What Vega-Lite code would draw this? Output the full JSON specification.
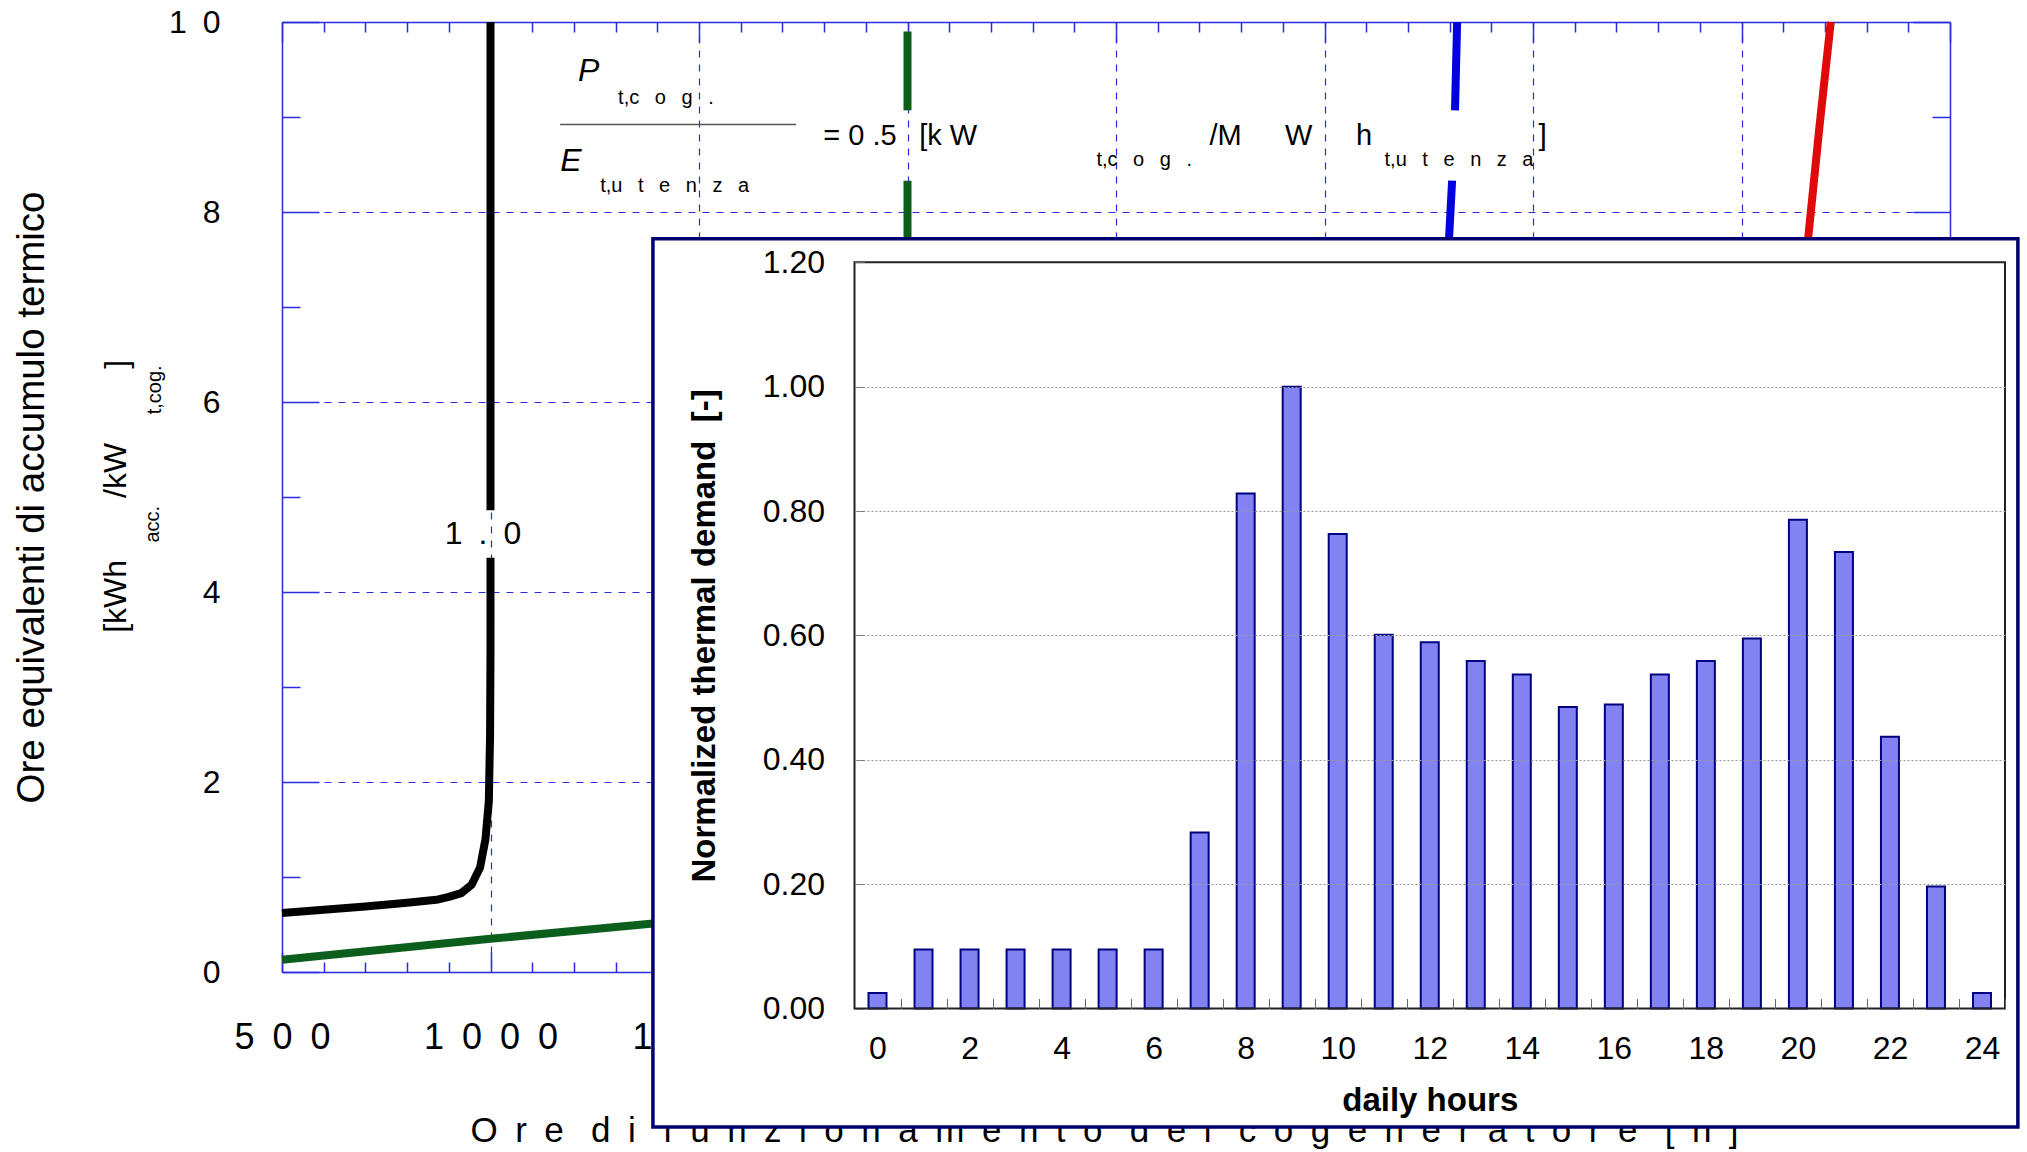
{
  "$schema": "https://vega.github.io/schema/vega-lite/v6.json",
  "width": 1668,
  "height": 950,
  "autosize": {"type": "none"},
  "padding": {"left": 282, "top": 22, "right": 77, "bottom": 180},
  "background": "white",
  "config": {
    "view": {"stroke": null},
    "font": "Liberation Sans",
    "axis": {"labelFont": "Liberation Sans", "titleFont": "Liberation Sans", "labelColor": "#000", "titleColor": "#000"},
    "text": {"font": "Liberation Sans", "color": "#000"}
  },
  "layer": [
    {
      "layer": [
        {
          "data": {"values": [
            {"curva": "nero", "tratto": "nero1", "n": 1, "ore": 500, "acc": 0.62},
            {"curva": "nero", "tratto": "nero1", "n": 2, "ore": 600, "acc": 0.655},
            {"curva": "nero", "tratto": "nero1", "n": 3, "ore": 700, "acc": 0.69},
            {"curva": "nero", "tratto": "nero1", "n": 4, "ore": 800, "acc": 0.73},
            {"curva": "nero", "tratto": "nero1", "n": 5, "ore": 870, "acc": 0.76},
            {"curva": "nero", "tratto": "nero1", "n": 6, "ore": 900, "acc": 0.79},
            {"curva": "nero", "tratto": "nero1", "n": 7, "ore": 930, "acc": 0.83},
            {"curva": "nero", "tratto": "nero1", "n": 8, "ore": 955, "acc": 0.92},
            {"curva": "nero", "tratto": "nero1", "n": 9, "ore": 975, "acc": 1.1},
            {"curva": "nero", "tratto": "nero1", "n": 10, "ore": 988, "acc": 1.4},
            {"curva": "nero", "tratto": "nero1", "n": 11, "ore": 996, "acc": 1.8},
            {"curva": "nero", "tratto": "nero1", "n": 12, "ore": 999, "acc": 2.5},
            {"curva": "nero", "tratto": "nero1", "n": 13, "ore": 1000, "acc": 3.4},
            {"curva": "nero", "tratto": "nero1", "n": 14, "ore": 1000, "acc": 4.36},
            {"curva": "nero", "tratto": "nero2", "n": 15, "ore": 1000, "acc": 4.86},
            {"curva": "nero", "tratto": "nero2", "n": 16, "ore": 1000, "acc": 10},
            {"curva": "verde", "tratto": "verde1", "n": 1, "ore": 500, "acc": 0.13},
            {"curva": "verde", "tratto": "verde1", "n": 2, "ore": 1000, "acc": 0.35},
            {"curva": "verde", "tratto": "verde1", "n": 3, "ore": 1390, "acc": 0.51},
            {"curva": "verde", "tratto": "verde1", "n": 4, "ore": 1700, "acc": 0.68},
            {"curva": "verde", "tratto": "verde1", "n": 5, "ore": 1900, "acc": 0.95},
            {"curva": "verde", "tratto": "verde1", "n": 6, "ore": 1970, "acc": 1.8},
            {"curva": "verde", "tratto": "verde1", "n": 7, "ore": 1995, "acc": 3.5},
            {"curva": "verde", "tratto": "verde1", "n": 8, "ore": 2000, "acc": 5.5},
            {"curva": "verde", "tratto": "verde1", "n": 9, "ore": 2000, "acc": 8.33},
            {"curva": "verde", "tratto": "verde2", "n": 10, "ore": 2000, "acc": 9.07},
            {"curva": "verde", "tratto": "verde2", "n": 11, "ore": 2000, "acc": 9.9},
            {"curva": "blu", "tratto": "blu1", "n": 1, "ore": 3200, "acc": 4.0},
            {"curva": "blu", "tratto": "blu1", "n": 2, "ore": 3290, "acc": 7.0},
            {"curva": "blu", "tratto": "blu1", "n": 3, "ore": 3306, "acc": 8.33},
            {"curva": "blu", "tratto": "blu2", "n": 4, "ore": 3313, "acc": 9.07},
            {"curva": "blu", "tratto": "blu2", "n": 5, "ore": 3318, "acc": 10},
            {"curva": "rosso", "tratto": "rosso1", "n": 1, "ore": 4100, "acc": 5.0},
            {"curva": "rosso", "tratto": "rosso1", "n": 2, "ore": 4160, "acc": 7.73},
            {"curva": "rosso", "tratto": "rosso1", "n": 3, "ore": 4187, "acc": 8.9},
            {"curva": "rosso", "tratto": "rosso1", "n": 4, "ore": 4214, "acc": 10}
          ]},
          "mark": {"type": "line", "strokeWidth": 8, "strokeCap": "butt", "strokeJoin": "round"},
          "encoding": {
            "x": {"field": "ore", "type": "quantitative",
              "scale": {"domain": [500, 4500], "nice": false, "zero": false},
              "axis": {
                "orient": "bottom",
                "values": [500,600,700,800,900,1000,1100,1200,1300,1400,1500,1600,1700,1800,1900,2000,2100,2200,2300,2400,2500,2600,2700,2800,2900,3000,3100,3200,3300,3400,3500,3600,3700,3800,3900,4000,4100,4200,4300,4400,4500],
                "format": "d",
                "labelExpr": "datum.value % 500 === 0 && datum.value <= 1500 ? join(split(datum.label, ''), '\u2002') : ''",
                "labelFontSize": 36, "labelPadding": 68, "labelFlush": false, "labelOverlap": false,
                "tickSize": {"condition": {"test": "datum.value % 500 === 0", "value": -20}, "value": -10},
                "tickColor": "#2b2be0", "tickWidth": 1.5,
                "grid": true, "gridColor": "#2b2be0", "gridDash": [7, 7], "gridWidth": 1.2,
                "gridOpacity": {"condition": {"test": "datum.value % 500 === 0 && datum.value > 500 && datum.value < 4500", "value": 1}, "value": 0},
                "domainColor": "#2b2be0", "domainWidth": 1.5,
                "title": "O\u2002r\u2002e\u2002\u00a0d\u2002i\u2002\u00a0f\u2002u\u2002n\u2002z\u2002i\u2002o\u2002n\u2002a\u2002m\u2002e\u2002n\u2002t\u2002o\u2002\u00a0d\u2002e\u2002l\u2002\u00a0c\u2002o\u2002g\u2002e\u2002n\u2002e\u2002r\u2002a\u2002t\u2002o\u2002r\u2002e\u2002\u00a0[\u2002h\u2002]",
                "titleFontSize": 35, "titleFontWeight": "normal", "titlePadding": 48, "titleX": 822
              }},
            "y": {"field": "acc", "type": "quantitative",
              "scale": {"domain": [0, 10], "nice": false, "zero": false},
              "axis": {
                "orient": "left",
                "values": [0,1,2,3,4,5,6,7,8,9,10],
                "format": "d",
                "labelExpr": "datum.value % 2 === 0 ? join(split(datum.label, ''), '\u2002') : ''",
                "labelFontSize": 32, "labelPadding": 99, "labelOverlap": false,
                "tickSize": {"condition": {"test": "datum.value % 2 === 0", "value": -37}, "value": -18},
                "tickColor": "#2b2be0", "tickWidth": 1.5,
                "grid": true, "gridColor": "#2b2be0", "gridDash": [7, 7], "gridWidth": 1.2,
                "gridOpacity": {"condition": {"test": "datum.value % 2 === 0 && datum.value > 0 && datum.value < 10", "value": 1}, "value": 0},
                "domainColor": "#2b2be0", "domainWidth": 1.5,
                "title": "Ore equivalenti di accumulo termico",
                "titleFontSize": 38.5, "titleFontWeight": "normal", "titlePadding": 117
              }},
            "color": {"field": "curva", "type": "nominal",
              "scale": {"domain": ["nero", "verde", "blu", "rosso"], "range": ["#000000", "#0b5e1c", "#0000e0", "#e00a0a"]},
              "legend": null},
            "detail": {"field": "tratto"},
            "order": {"field": "n", "type": "quantitative"}
          }
        },
        {
          "data": {"values": [{}]},
          "mark": {"type": "text", "text": "1\u2002.\u20020", "fontSize": 32, "align": "center", "baseline": "middle"},
          "encoding": {
            "x": {"datum": 982, "type": "quantitative",
              "axis": {
                "orient": "top",
                "values": [500,600,700,800,900,1000,1100,1200,1300,1400,1500,1600,1700,1800,1900,2000,2100,2200,2300,2400,2500,2600,2700,2800,2900,3000,3100,3200,3300,3400,3500,3600,3700,3800,3900,4000,4100,4200,4300,4400,4500],
                "labels": false, "grid": false, "title": null,
                "tickSize": {"condition": {"test": "datum.value % 500 === 0", "value": -20}, "value": -10},
                "tickColor": "#2b2be0", "tickWidth": 1.5,
                "domainColor": "#2b2be0", "domainWidth": 1.5
              }},
            "y": {"datum": 4.61, "type": "quantitative",
              "axis": {
                "orient": "right",
                "values": [0,1,2,3,4,5,6,7,8,9,10],
                "labels": false, "grid": false, "title": null,
                "tickSize": {"condition": {"test": "datum.value % 2 === 0", "value": -37}, "value": -18},
                "tickColor": "#2b2be0", "tickWidth": 1.5,
                "domainColor": "#2b2be0", "domainWidth": 1.5
              }}
          }
        },
        {
          "data": {"values": [{}]},
          "mark": {"type": "text", "text": "P", "fontSize": 32, "fontStyle": "italic", "align": "left", "baseline": "middle"},
          "encoding": {"x": {"datum": 1210, "type": "quantitative", "axis": null}, "y": {"datum": 9.48, "type": "quantitative", "axis": null}}
        },
        {
          "data": {"values": [{}]},
          "mark": {"type": "text", "text": "t,c\u2002\u00a0o\u2002\u00a0g\u2002\u00a0.", "fontSize": 20, "align": "left", "baseline": "middle"},
          "encoding": {"x": {"datum": 1306, "type": "quantitative", "axis": null}, "y": {"datum": 9.2, "type": "quantitative", "axis": null}}
        },
        {
          "data": {"values": [{}]},
          "mark": {"type": "rule", "color": "#555555", "strokeWidth": 1.5},
          "encoding": {"x": {"datum": 1167, "type": "quantitative", "axis": null}, "x2": {"datum": 1733}, "y": {"datum": 8.92, "type": "quantitative", "axis": null}}
        },
        {
          "data": {"values": [{}]},
          "mark": {"type": "text", "text": "E", "fontSize": 32, "fontStyle": "italic", "align": "left", "baseline": "middle"},
          "encoding": {"x": {"datum": 1167, "type": "quantitative", "axis": null}, "y": {"datum": 8.54, "type": "quantitative", "axis": null}}
        },
        {
          "data": {"values": [{}]},
          "mark": {"type": "text", "text": "t,u\u2002\u00a0t\u2002\u00a0e\u2002\u00a0n\u2002\u00a0z\u2002\u00a0a", "fontSize": 20, "align": "left", "baseline": "middle"},
          "encoding": {"x": {"datum": 1263, "type": "quantitative", "axis": null}, "y": {"datum": 8.27, "type": "quantitative", "axis": null}}
        },
        {
          "data": {"values": [{}]},
          "mark": {"type": "text", "text": "=\u00a00\u00a0.5\u2002\u00a0[k\u00a0W", "fontSize": 29, "align": "left", "baseline": "middle"},
          "encoding": {"x": {"datum": 1798, "type": "quantitative", "axis": null}, "y": {"datum": 8.8, "type": "quantitative", "axis": null}}
        },
        {
          "data": {"values": [{}]},
          "mark": {"type": "text", "text": "t,c\u2002\u00a0o\u2002\u00a0g\u2002\u00a0.", "fontSize": 20, "align": "left", "baseline": "middle"},
          "encoding": {"x": {"datum": 2453, "type": "quantitative", "axis": null}, "y": {"datum": 8.55, "type": "quantitative", "axis": null}}
        },
        {
          "data": {"values": [{}]},
          "mark": {"type": "text", "text": "/M\u2003\u2002W\u2003\u2002h", "fontSize": 29, "align": "left", "baseline": "middle"},
          "encoding": {"x": {"datum": 2724, "type": "quantitative", "axis": null}, "y": {"datum": 8.8, "type": "quantitative", "axis": null}}
        },
        {
          "data": {"values": [{}]},
          "mark": {"type": "text", "text": "t,u\u2002\u00a0t\u2002\u00a0e\u2002\u00a0n\u2002\u00a0z\u2002\u00a0a", "fontSize": 20, "align": "left", "baseline": "middle"},
          "encoding": {"x": {"datum": 3144, "type": "quantitative", "axis": null}, "y": {"datum": 8.55, "type": "quantitative", "axis": null}}
        },
        {
          "data": {"values": [{}]},
          "mark": {"type": "text", "text": "]", "fontSize": 30, "align": "left", "baseline": "middle"},
          "encoding": {"x": {"datum": 3513, "type": "quantitative", "axis": null}, "y": {"datum": 8.8, "type": "quantitative", "axis": null}}
        },
        {
          "data": {"values": [{}]},
          "mark": {"type": "text", "text": "[kWh", "fontSize": 32, "angle": 270, "align": "left", "baseline": "middle"},
          "encoding": {"x": {"datum": 102, "type": "quantitative", "axis": null}, "y": {"datum": 3.57, "type": "quantitative", "axis": null}}
        },
        {
          "data": {"values": [{}]},
          "mark": {"type": "text", "text": "acc.", "fontSize": 20, "angle": 270, "align": "left", "baseline": "middle"},
          "encoding": {"x": {"datum": 190, "type": "quantitative", "axis": null}, "y": {"datum": 4.52, "type": "quantitative", "axis": null}}
        },
        {
          "data": {"values": [{}]},
          "mark": {"type": "text", "text": "/kW", "fontSize": 32, "angle": 270, "align": "left", "baseline": "middle"},
          "encoding": {"x": {"datum": 102, "type": "quantitative", "axis": null}, "y": {"datum": 4.99, "type": "quantitative", "axis": null}}
        },
        {
          "data": {"values": [{}]},
          "mark": {"type": "text", "text": "t,cog.", "fontSize": 20, "angle": 270, "align": "left", "baseline": "middle"},
          "encoding": {"x": {"datum": 195, "type": "quantitative", "axis": null}, "y": {"datum": 5.87, "type": "quantitative", "axis": null}}
        },
        {
          "data": {"values": [{}]},
          "mark": {"type": "text", "text": "]", "fontSize": 32, "angle": 270, "align": "left", "baseline": "middle"},
          "encoding": {"x": {"datum": 105, "type": "quantitative", "axis": null}, "y": {"datum": 6.35, "type": "quantitative", "axis": null}}
        }
      ],
      "resolve": {"axis": {"x": "independent", "y": "independent"}}
    },
    {
      "layer": [
        {
          "data": {"values": [{}]},
          "mark": {"type": "rect", "fill": "white", "stroke": "#00006e", "strokeWidth": 3.5},
          "encoding": {
            "x": {"datum": -4.88, "type": "quantitative",
              "scale": {"domain": [-0.5, 24.5], "range": [572.5, 1723], "nice": false, "zero": false, "padding": 0},
              "axis": null},
            "x2": {"datum": 24.78},
            "y": {"datum": 1.238, "type": "quantitative",
              "scale": {"domain": [0, 1.2], "range": [986.5, 240.3], "nice": false, "zero": false, "padding": 0},
              "axis": {
                "orient": "left", "offset": -572.5, "zindex": 2,
                "values": [0, 0.2, 0.4, 0.6, 0.8, 1.0, 1.2],
                "format": ".2f",
                "labelFontSize": 32, "labelPadding": 40, "labelOverlap": false,
                "tickSize": -10, "tickColor": "#666666", "tickWidth": 1,
                "domain": false, "grid": false,
                "title": "Normalized thermal demand\u00a0\u00a0[-]", "titleFontSize": 33, "titleFontWeight": "bold", "titlePadding": 41
              }},
            "y2": {"datum": -0.1906}
          }
        },
        {
          "data": {"values": [
            {"ora": 0, "domanda": 0.025}, {"ora": 1, "domanda": 0.095}, {"ora": 2, "domanda": 0.095},
            {"ora": 3, "domanda": 0.095}, {"ora": 4, "domanda": 0.095}, {"ora": 5, "domanda": 0.095},
            {"ora": 6, "domanda": 0.095}, {"ora": 7, "domanda": 0.283}, {"ora": 8, "domanda": 0.828},
            {"ora": 9, "domanda": 1.0}, {"ora": 10, "domanda": 0.763}, {"ora": 11, "domanda": 0.601},
            {"ora": 12, "domanda": 0.589}, {"ora": 13, "domanda": 0.559}, {"ora": 14, "domanda": 0.537},
            {"ora": 15, "domanda": 0.485}, {"ora": 16, "domanda": 0.489}, {"ora": 17, "domanda": 0.537},
            {"ora": 18, "domanda": 0.559}, {"ora": 19, "domanda": 0.595}, {"ora": 20, "domanda": 0.786},
            {"ora": 21, "domanda": 0.734}, {"ora": 22, "domanda": 0.437}, {"ora": 23, "domanda": 0.196},
            {"ora": 24, "domanda": 0.025}
          ]},
          "mark": {"type": "bar", "width": 18, "fill": "#8282f2", "stroke": "#000080", "strokeWidth": 2},
          "encoding": {
            "x": {"field": "ora", "type": "quantitative",
              "axis": {
                "orient": "bottom", "offset": 36.5, "zindex": 2,
                "values": [0,1,2,3,4,5,6,7,8,9,10,11,12,13,14,15,16,17,18,19,20,21,22,23,24],
                "format": "d",
                "labelExpr": "datum.value % 2 === 0 ? datum.label : ''",
                "labelFontSize": 32, "labelPadding": 35, "labelFlush": false, "labelOverlap": false,
                "tickOffset": 23, "labelOffset": -23,
                "tickSize": -10, "tickColor": "#666666", "tickWidth": 1,
                "domain": false, "grid": false,
                "title": "daily hours", "titleFontSize": 33, "titleFontWeight": "bold", "titlePadding": 20
              }},
            "y": {"field": "domanda", "type": "quantitative", "axis": null}
          }
        },
        {
          "data": {"values": [{}]},
          "mark": {"type": "rect", "filled": false, "stroke": "#222222", "strokeWidth": 2},
          "encoding": {
            "x": {"datum": -0.5, "type": "quantitative", "axis": null},
            "x2": {"datum": 24.5},
            "y": {"datum": 0, "type": "quantitative",
              "axis": {
                "orient": "right", "offset": 55, "zindex": 2,
                "values": [0.2, 0.4, 0.6, 0.8, 1.0],
                "labels": false, "domain": false, "grid": false, "title": null,
                "tickSize": -1150, "tickColor": "#9a9a9a", "tickDash": [2, 2], "tickWidth": 1
              }},
            "y2": {"datum": 1.2}
          }
        }
      ],
      "resolve": {"axis": {"x": "independent", "y": "independent"}}
    }
  ],
  "resolve": {"scale": {"x": "independent", "y": "independent", "color": "independent"}}
}
